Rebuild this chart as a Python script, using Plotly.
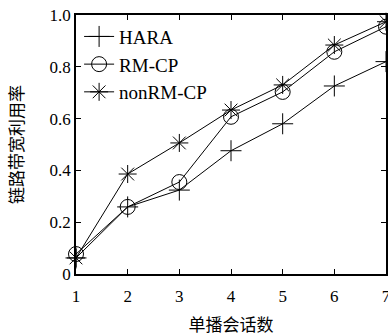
import plotly.graph_objects as go

sessions = [1, 2, 3, 4, 5, 6, 7]
hara = [0.062, 0.259, 0.324, 0.476, 0.580, 0.726, 0.820]
rm_cp = [0.077, 0.259, 0.355, 0.607, 0.703, 0.858, 0.955]
nonrm_cp = [0.062, 0.386, 0.506, 0.633, 0.730, 0.884, 0.974]

y_tickvals = [0, 0.2, 0.4, 0.6, 0.8, 1.0]
y_ticktext = ["0", "0.2", "0.4", "0.6", "0.8", "1.0"]
x_ticks = [1, 2, 3, 4, 5, 6, 7]

series = [
    ("HARA", hara, "cross-thin-open"),
    ("RM-CP", rm_cp, "circle-open"),
    ("nonRM-CP", nonrm_cp, "asterisk-open"),
]

fig = go.Figure()
for name, vals, sym in series:
    fig.add_trace(go.Scatter(
        x=sessions, y=vals, name=name, mode="lines+markers",
        line=dict(color="black", width=1),
        marker=dict(symbol=sym, size=15, color="black",
                    line=dict(color="black", width=1)),
        cliponaxis=False,
    ))

font_fam = "Liberation Serif"
axis_common = dict(
    showline=True, linecolor="black", linewidth=1.5, mirror="allticks",
    ticks="inside", ticklen=5, tickcolor="black", tickwidth=1,
    showgrid=False, zeroline=False, automargin=False,
    ticklabeloverflow="allow",
    tickfont=dict(family=font_fam, size=17, color="black"),
)
fig.update_xaxes(range=[1, 7], tickvals=x_ticks, ticklabelstandoff=6,
                 title=dict(text="单播会话数", font=dict(family="Noto Sans CJK SC", size=17, color="black"), standoff=14),
                 **axis_common)
fig.update_yaxes(range=[0, 1], tickvals=y_tickvals, ticktext=y_ticktext,
                 title=dict(text="链路带宽利用率", font=dict(family="Noto Sans CJK SC", size=17, color="black"), standoff=22),
                 **axis_common)
fig.update_layout(
    width=388, height=336,
    margin=dict(l=76, r=2, t=15, b=62),
    plot_bgcolor="white", paper_bgcolor="white",
    font=dict(family=font_fam, color="black"),
    showlegend=True,
    legend=dict(x=0.01, y=0.99, xanchor="left", yanchor="top",
                bgcolor="rgba(0,0,0,0)", font=dict(family=font_fam, size=19, color="black"),
                tracegroupgap=0, itemwidth=30),
)
fig.write_html("out.html", config={"displayModeBar": False},
               post_script="document.body.style.margin='0';")
